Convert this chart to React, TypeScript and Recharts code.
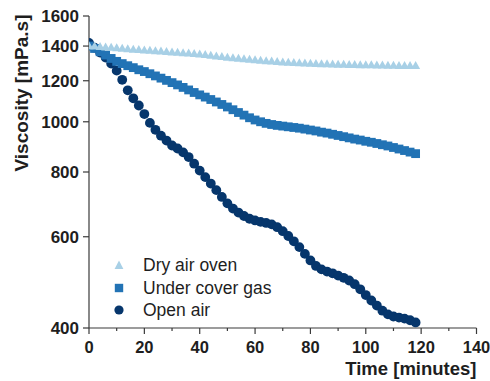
import { ScatterChart, Scatter, XAxis, YAxis, Legend, Label } from 'recharts';

const FONT = '"Liberation Sans", Arial, Helvetica, sans-serif';
const AXIS = '#3a3a3a';
const TEXT = '#1e1e1e';

const COLORS = {
  dry: '#a8d0e6',
  gas: '#2273b5',
  open: '#06366c',
};

// sampling times (minutes)
const times = [
  0, 2, 4, 6, 8, 10, 12, 14, 16, 18, 20, 22, 24, 26, 28, 30, 32, 34, 36, 38,
  40, 42, 44, 46, 48, 50, 52, 54, 56, 58, 60, 62, 64, 66, 68, 70, 72, 74, 76, 78,
  80, 82, 84, 86, 88, 90, 92, 94, 96, 98, 100, 102, 104, 106, 108, 110, 112, 114, 116, 118,
];

// viscosity, mPa.s
const dryAirOven = [
  1400, 1398, 1395, 1393, 1390, 1388, 1385, 1382, 1379, 1377, 1374, 1372, 1369, 1367, 1364, 1362, 1360, 1357, 1355, 1352,
  1350, 1346, 1342, 1338, 1334, 1330, 1327, 1324, 1321, 1318, 1315, 1313, 1310, 1308, 1305, 1303, 1301, 1300, 1298, 1296,
  1295, 1294, 1293, 1292, 1291, 1290, 1289, 1288, 1288, 1287, 1286, 1286, 1285, 1285, 1284, 1284, 1283, 1283, 1282, 1282,
];

const underCoverGas = [
  1400, 1385, 1365, 1345, 1325, 1308, 1295, 1283, 1272, 1260, 1250, 1238, 1226, 1214, 1202, 1190, 1178, 1165, 1152, 1139,
  1127, 1116, 1104, 1092, 1080, 1068, 1055, 1042, 1030, 1018, 1008, 1000, 993, 988, 984, 981, 978, 975, 972, 968,
  964, 960, 955, 951, 946, 941, 936, 931, 926, 922, 917, 913, 908, 903, 898, 892, 886, 880, 874, 868,
];

const openAir = [
  1420, 1390, 1360, 1330, 1295, 1255, 1205, 1150, 1110, 1075, 1035, 995, 965, 940, 920, 900, 888, 873, 855, 830,
  805, 782, 760, 738, 716, 696, 680, 668, 658, 650, 645, 641, 638, 634, 626, 615, 602, 588, 573, 556,
  540, 527, 519, 514, 510, 505, 500, 494, 486, 475, 463, 452, 442, 432, 425, 421, 419, 417, 414, 410,
];

const xTicks = [0, 10, 20, 30, 40, 50, 60, 70, 80, 90, 100, 110, 120, 130, 140];
const yTicks = [400, 600, 800, 1000, 1200, 1400, 1600];
const legendOrder = ['Dry air oven', 'Under cover gas', 'Open air'];

const toPoints = (vals: number[]) => times.map((t, i) => ({ t, v: vals[i] }));

function Circle(props: any) {
  return <circle cx={props.cx} cy={props.cy} r={4.9} fill={COLORS.open} />;
}

function Square(props: any) {
  const s = 8.8;
  return <rect x={props.cx - s / 2} y={props.cy - s / 2} width={s} height={s} fill={COLORS.gas} />;
}

function Triangle(props: any) {
  const w = 9;
  const h = 8;
  const { cx, cy } = props;
  return (
    <path
      d={`M${cx},${cy - h * 0.6} L${cx + w / 2},${cy + h * 0.4} L${cx - w / 2},${cy + h * 0.4} Z`}
      fill={COLORS.dry}
    />
  );
}

function TimeTick({ x, y, payload }: any) {
  const major = payload.value % 20 === 0;
  return (
    <g>
      <line x1={x} x2={x} y1={y} y2={y + (major ? 6 : 3)} stroke={AXIS} strokeWidth={1.2} />
      {major && (
        <text x={x} y={y + 25} textAnchor="middle" fill={TEXT} fontSize={16.5} fontWeight="bold" fontFamily={FONT}>
          {payload.value}
        </text>
      )}
    </g>
  );
}

function KeyIcon({ type, color }: { type: string; color: string }) {
  return (
    <svg width={12} height={12} style={{ display: 'block' }}>
      {type === 'triangle' && <path d="M6,1.5 L10.4,10 L1.6,10 Z" fill={color} />}
      {type === 'square' && <rect x={1.8} y={1.8} width={8.4} height={8.4} fill={color} />}
      {type === 'circle' && <circle cx={6} cy={6} r={4.6} fill={color} />}
    </svg>
  );
}

function KeyContent({ payload }: any) {
  const items = [...(payload || [])].sort(
    (a: any, b: any) => legendOrder.indexOf(a.value) - legendOrder.indexOf(b.value),
  );
  return (
    <div style={{ fontFamily: FONT, fontSize: 17.5, color: TEXT }}>
      {items.map((p: any) => (
        <div key={p.value} style={{ display: 'flex', alignItems: 'center', height: 22.5 }}>
          <KeyIcon type={p.type} color={p.color} />
          <span style={{ marginLeft: 18, lineHeight: '22.5px' }}>{p.value}</span>
        </div>
      ))}
    </div>
  );
}

export default function App() {
  return (
    <div style={{ position: 'absolute', left: 0, top: 0, width: 490, height: 381, background: '#fff' }}>
      <ScatterChart width={490} height={381} margin={{ top: 16, right: 13.5, bottom: 0, left: 0 }}>
        <XAxis
          dataKey="t"
          type="number"
          domain={[0, 140]}
          ticks={xTicks}
          interval={0}
          height={53}
          tickSize={0}
          tickMargin={0}
          tick={<TimeTick />}
          axisLine={{ stroke: AXIS, strokeWidth: 1.2 }}
          allowDataOverflow
        >
          <Label
            content={({ viewBox }: any) => (
              <text
                x={viewBox.x + viewBox.width}
                y={viewBox.y + 46.5}
                textAnchor="end"
                fill={TEXT}
                fontSize={18.5}
                fontWeight="bold"
                fontFamily={FONT}
              >
                Time [minutes]
              </text>
            )}
          />
        </XAxis>
        <XAxis
          xAxisId="top"
          orientation="top"
          type="number"
          domain={[0, 140]}
          height={0}
          tick={false}
          tickLine={false}
          axisLine={{ stroke: AXIS, strokeWidth: 1.2 }}
        />
        <YAxis
          dataKey="v"
          type="number"
          scale="log"
          domain={[400, 1600]}
          ticks={yTicks}
          interval={0}
          width={89}
          tickSize={6}
          tickMargin={4}
          tick={{ fill: TEXT, fontSize: 17, fontWeight: 'bold', fontFamily: FONT }}
          tickLine={{ stroke: AXIS, strokeWidth: 1.2 }}
          axisLine={{ stroke: AXIS, strokeWidth: 1.2 }}
          allowDataOverflow
        >
          <Label
            content={({ viewBox }: any) => {
              const x = viewBox.x + 21;
              const y = viewBox.y + 77;
              return (
                <text
                  x={x}
                  y={y}
                  transform={`rotate(-90, ${x}, ${y})`}
                  textAnchor="middle"
                  dominantBaseline="central"
                  fill={TEXT}
                  fontSize={19}
                  fontWeight="bold"
                  fontFamily={FONT}
                >
                  Viscosity [mPa.s]
                </text>
              );
            }}
          />
        </YAxis>
        <YAxis
          yAxisId="right"
          orientation="right"
          mirror
          type="number"
          scale="log"
          domain={[400, 1600]}
          ticks={yTicks}
          interval={0}
          width={0}
          tickSize={6}
          tick={false}
          tickLine={{ stroke: AXIS, strokeWidth: 1.2 }}
          axisLine={{ stroke: AXIS, strokeWidth: 1.2 }}
          allowDataOverflow
        />
        <Legend
          layout="vertical"
          align="center"
          verticalAlign="middle"
          wrapperStyle={{ left: 113, top: 254, width: 200 }}
          content={<KeyContent />}
        />
        <Scatter
          name="Open air"
          data={toPoints(openAir)}
          legendType="circle"
          fill={COLORS.open}
          shape={<Circle />}
          isAnimationActive={false}
        />
        <Scatter
          name="Under cover gas"
          data={toPoints(underCoverGas)}
          legendType="square"
          fill={COLORS.gas}
          shape={<Square />}
          isAnimationActive={false}
        />
        <Scatter
          name="Dry air oven"
          data={toPoints(dryAirOven)}
          legendType="triangle"
          fill={COLORS.dry}
          shape={<Triangle />}
          isAnimationActive={false}
        />
      </ScatterChart>
    </div>
  );
}
